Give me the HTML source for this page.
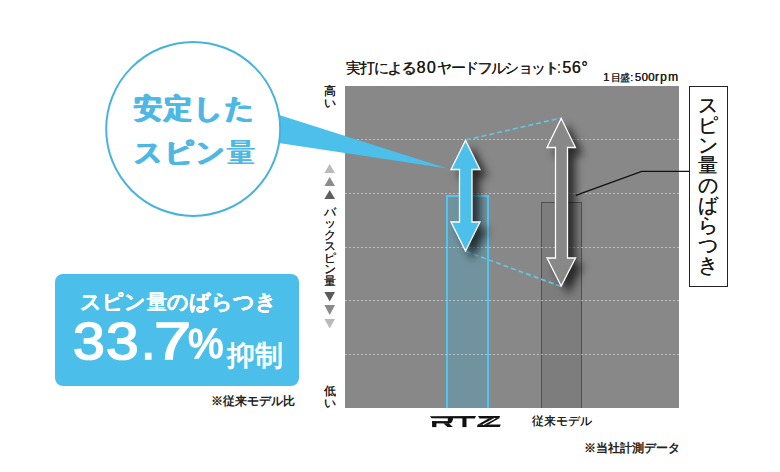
<!DOCTYPE html>
<html><head><meta charset="utf-8">
<style>
html,body{margin:0;padding:0;background:#fff;}
body{width:780px;height:472px;overflow:hidden;position:relative;font-family:"Liberation Sans",sans-serif;color:#1a1a1a;}
.a{position:absolute;white-space:nowrap;}
#chart{left:345px;top:86px;width:334px;height:322px;background:#888888;}
.grid{position:absolute;left:345px;width:334px;height:1px;background:repeating-linear-gradient(90deg,rgba(255,255,255,.45) 0 2.5px,transparent 2.5px 4px);}
#rtzbar{left:446px;top:195px;width:38.5px;height:211px;border:2px solid #52c5ef;border-bottom:none;background:rgba(50,175,220,.28);}
#oldbar{left:541px;top:202px;width:38.5px;height:204.5px;border:1.5px solid #505050;border-bottom:none;background:rgba(0,0,0,.08);}
.st{text-align:center;text-shadow:0.3px 0 0 #1a1a1a;}
.dg{top:311px;font-size:52px;color:#fff;-webkit-text-stroke:1.6px #fff;transform-origin:0 0;}
</style></head>
<body>
<div class="a" id="chart"></div>
<div class="a" id="rtzbar"></div>
<div class="a" id="oldbar"></div>
<div class="grid" style="top:139px"></div>
<div class="grid" style="top:193px"></div>
<div class="grid" style="top:247px"></div>
<div class="grid" style="top:300px"></div>
<div class="grid" style="top:354px"></div>

<svg class="a" style="left:0;top:0" width="780" height="472" viewBox="0 0 780 472">
  <!-- wedge -->
  <polygon points="193,87.7 447.5,168.5 193,130" fill="#4cbfea"/>
  <!-- circle -->
  <circle cx="193.2" cy="128.9" r="87" fill="#fff" stroke="#47b3dc" stroke-width="2"/>
  <!-- dashed connectors -->
  <line x1="466" y1="140" x2="561" y2="118" stroke="#66c4dc" stroke-width="1.7" stroke-dasharray="5 3"/>
  <line x1="466" y1="251.5" x2="561" y2="286.5" stroke="#66c4dc" stroke-width="1.7" stroke-dasharray="5 3"/>
  <!-- callout line -->
  <polyline points="575.8,195.4 641.7,171.3 690,171.3" fill="none" stroke="#111" stroke-width="1.3"/>
  <g style="filter:drop-shadow(7px 7px 4.5px rgba(0,0,0,.68))">
    <path d="M561.2,118.5 L575.5,147.5 L567.5,147.5 L567.5,258 L575.5,258 L561.2,286 L547,258 L555.5,258 L555.5,147.5 L547,147.5 Z" fill="#888" stroke="#fff" stroke-width="1.3" stroke-linejoin="miter"/>
  </g>
  <g style="filter:drop-shadow(7px 7px 4.5px rgba(0,0,0,.68))">
    <path d="M465.5,140.5 L480,169.5 L472,169.5 L472,222 L480,222 L465.5,251 L451,222 L459.5,222 L459.5,169.5 L451,169.5 Z" fill="#4cbfea" stroke="#fff" stroke-width="1.3" stroke-linejoin="miter"/>
  </g>
  <!-- axis triangles -->
  <polygon points="329.7,164 335,173 324.4,173" fill="#bababa"/>
  <polygon points="329.7,177 335,186 324.4,186" fill="#8c8c8c"/>
  <polygon points="329.7,190 335,199 324.4,199" fill="#5e5e5e"/>
  <polygon points="324.4,292 335,292 329.7,301.5" fill="#5a5a5a"/>
  <polygon points="324.4,305 335,305 329.7,315" fill="#8a8a8a"/>
  <polygon points="324.4,319 335,319 329.7,328.5" fill="#bababa"/>
  <!-- RTZ logo -->
  <g fill="#111">
    <path d="M429.8,416.2 L476,416.1 L474.8,418.4 L431.6,418.3 Z"/>
    <path d="M447.8,417.5 L452,417.5 Q453.3,418 452.9,419.6 L452,422 Q451.3,423.4 449.5,423.4 L447.8,423.4 Z"/>
    <rect x="432.1" y="421.1" width="17" height="2.3"/>
    <rect x="432.1" y="421.1" width="4.3" height="6"/>
    <path d="M443.3,423.2 L448.6,423.2 L452.9,427.1 L447.4,427.1 Z"/>
    <rect x="462.4" y="418" width="4.1" height="9.1"/>
    <path d="M478,416.1 L500,416.1 L499.2,418.4 L479.6,418.4 Z"/>
    <path d="M489,418.3 L499.2,418.3 L488,424.7 L477.6,424.7 Z"/>
    <path d="M477.6,424.5 L500.7,424.5 L499.8,426.9 L477,426.9 Z"/>
  </g>
  <line x1="495.2" y1="418.2" x2="482.8" y2="424.8" stroke="#fff" stroke-width="1.1"/>
</svg>

<!-- circle text -->
<div class="a" style="left:134px;top:87px;font-size:28px;font-weight:bold;color:#4db8e3;line-height:44px;letter-spacing:2px;text-shadow:0.6px 0 0 #4db8e3,-0.6px 0 0 #4db8e3;">安定した<br>スピン<span style="font-weight:normal;text-shadow:0.9px 0 0 #4db8e3,-0.9px 0 0 #4db8e3">量</span></div>

<!-- blue box -->
<div class="a" style="left:54.5px;top:273.5px;width:244px;height:112px;border-radius:8px;background:#4bbfea;"></div>
<div class="a" style="left:80px;top:287.5px;font-size:21px;font-weight:bold;color:#fff;text-shadow:0.4px 0 0 #fff,-0.2px 0 0 #fff;">スピン<span style="font-weight:normal;text-shadow:0.7px 0 0 #fff,-0.5px 0 0 #fff">量</span>のばらつき</div>
<div class="a dg" style="left:72.5px;transform:scaleX(1.1)">3</div>
<div class="a dg" style="left:105.5px;transform:scaleX(1.13)">3</div>
<div class="a dg" style="left:141px;">.</div>
<div class="a dg" style="left:153.5px;transform:scaleX(1.28)">7</div>
<div class="a dg" style="left:188px;top:319px;font-size:43px;transform:scaleX(0.93)">%</div>
<div class="a" style="left:227px;top:337px;font-size:28px;font-weight:bold;color:#fff;">抑制</div>
<div class="a" style="left:211px;top:393px;font-size:12px;font-weight:bold;color:#222;">※従来モデル比</div>

<!-- title -->
<div class="a" style="left:346px;top:59px;font-size:15px;color:#1a1a1a;"><span style="letter-spacing:-1.2px;text-shadow:0.35px 0 0 #1a1a1a">実打による</span><span style="font-size:16px;margin-left:1.5px;letter-spacing:1.4px;text-shadow:0.2px 0 0 #1a1a1a">80</span><span style="letter-spacing:-1.6px;margin-left:0px;text-shadow:0.35px 0 0 #1a1a1a">ヤードフルショット</span><span style="margin-left:-1px;font-size:16px">:</span><span style="font-size:16px;margin-left:1px;letter-spacing:0.6px;text-shadow:0.2px 0 0 #1a1a1a">56°</span></div>
<div class="a" style="left:603px;top:70px;font-size:11.4px;color:#1a1a1a;text-shadow:0.3px 0 0 #1a1a1a;letter-spacing:0.4px">1<span style="font-size:10px;margin-left:1px;letter-spacing:-0.6px">目盛</span><span style="margin-left:0.5px">:</span><span style="margin-left:1px">500<span style="letter-spacing:1.2px;font-size:12px">rpm</span></span></div>

<!-- axis labels -->
<div class="a st" style="left:324px;top:85px;width:12px;font-size:11.5px;line-height:12px;">高<br>い</div>
<div class="a st" style="left:324px;top:206.5px;width:12px;font-size:11.5px;line-height:11.5px;">バ<br>ッ<br>ク<br>ス<br>ピ<br>ン<br>量</div>
<div class="a st" style="left:324px;top:385px;width:12px;font-size:11.5px;line-height:12px;">低<br>い</div>

<!-- right box -->
<div class="a" style="left:689.3px;top:85.6px;width:36.5px;height:199.5px;border:1.5px solid #222;background:#fff;"></div>
<div class="a st" style="left:697px;top:95px;width:22px;font-size:20px;line-height:20px;text-shadow:0.35px 0 0 #1a1a1a;">ス<br>ピ<br>ン<br>量<br>の<br>ば<br>ら<br>つ<br>き</div>

<!-- bottom labels -->
<div class="a" style="left:532px;top:413px;font-size:12px;text-shadow:0.35px 0 0 #1a1a1a;">従来モデル</div>
<div class="a" style="left:584px;top:439.5px;font-size:12px;font-weight:bold;color:#222;">※当社計測データ</div>
</body></html>
